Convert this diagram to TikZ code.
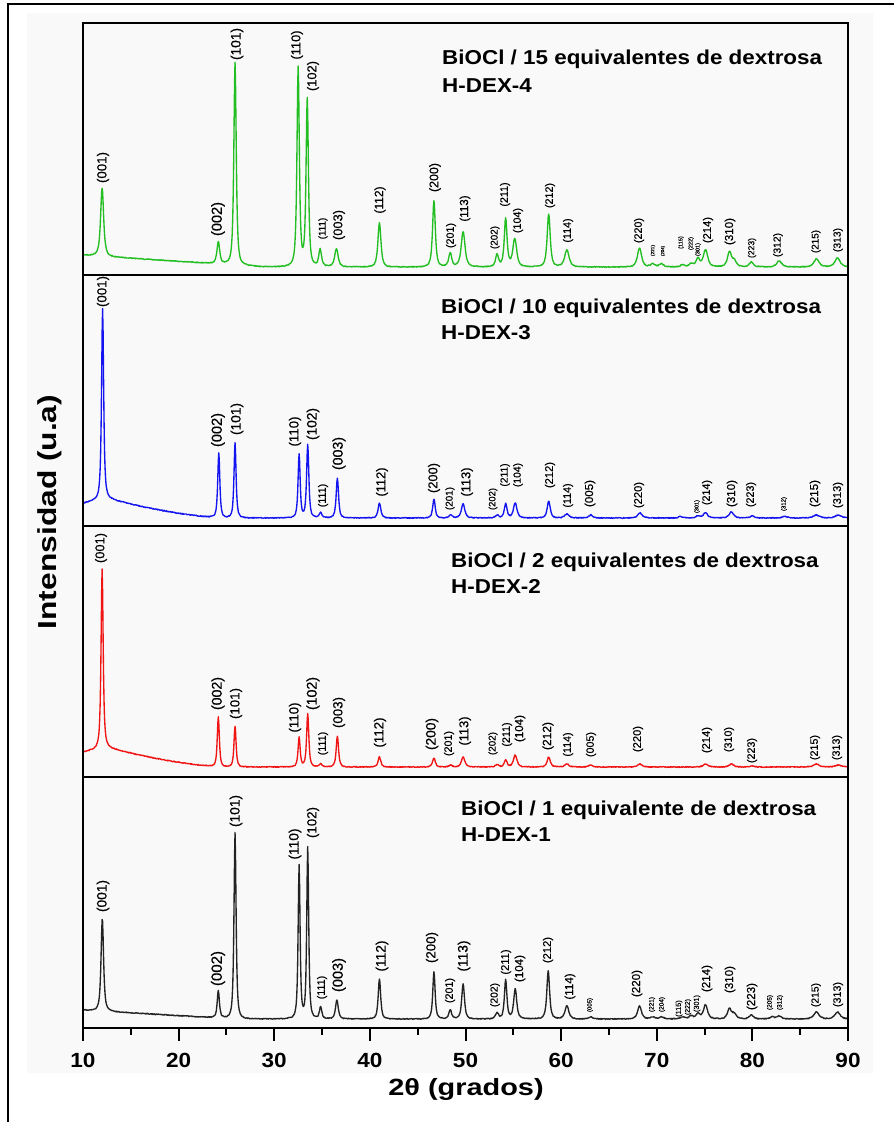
\documentclass[tikz,border=0pt]{standalone}
\usepackage{fontspec}
\setmainfont{Liberation Sans}
\newfontface\labfont[FakeBold=0.4]{Liberation Sans}
\usepackage{graphicx}
\definecolor{cgreen}{RGB}{34,190,34}
\definecolor{cblue}{RGB}{20,20,240}
\definecolor{cred}{RGB}{240,20,20}
\definecolor{cblack}{RGB}{35,35,35}
\definecolor{paper}{RGB}{249,249,249}
\newcommand\xrdcurve[3]{%
  \foreach \sa in {10,15,...,85}{%
    \pgfmathtruncatemacro\sb{\sa+5}%
    \gdef\xrdexpr{0}%
    \foreach \pc/\ph/\pw in {#1}{%
      \pgfmathtruncatemacro\inwin{abs(\pc-\sa-2.5)<5.5}%
      \ifnum\inwin=1
        \pgfmathsetmacro\xB{\pw*\pw*1.5}%
        \xdef\xrdexpr{\unexpanded\expandafter{\xrdexpr}+\ph*(\xB/((\noexpand\x-\pc)*(\noexpand\x-\pc)+\xB))*(0.2+0.8*\xB/((\noexpand\x-\pc)*(\noexpand\x-\pc)+\xB))}%
      \fi
    }%
    \draw[#3] plot[domain=\sa:\sb, samples=101] ({\x-10},{#2+\xrdexpr+0.45*rand});
  }%
}
\newcommand\lb[4]{%
  \pgfmathsetmacro\lbm{(#2+#3)/2}%
  \pgfmathsetmacro\lbs{(#3-#2)/2.33}%
  \node[rotate=90, inner sep=0pt, font=\labfont\fontsize{\lbs}{\lbs}\selectfont] at (#1,\lbm) {#4};%
}
\tikzset{
  frame/.style={line width=2pt, black},
  curve/.style={line width=1.35pt, line join=round, line cap=round},
  title/.style={anchor=base west, inner sep=0pt, xscale=1.115, font=\bfseries\fontsize{20.1}{20.1}\selectfont},
  ticklab/.style={anchor=base, inner sep=0pt, xscale=1.1, font=\bfseries\fontsize{20.5}{20.5}\selectfont},
}
\begin{document}
\begin{tikzpicture}[x=1pt,y=-1pt]
\useasboundingbox (0,0) rectangle (894,1122);
\fill[white] (0,0) rectangle (894,1122);
\fill[paper] (27,13) rectangle (873,1073);
% outer frame
\draw[frame] (894,4) -- (8,4) -- (8,1122);

% ---------- curves ----------
\begin{scope}[shift={(83,275)}, x=9.5625pt, y=1pt]
\xrdcurve{12.0/68/0.22, 24.15/22/0.2, 25.9/203/0.17, 32.5/199/0.17, 33.45/167/0.17, 34.8/17/0.2, 36.5/18/0.25, 41.0/44/0.22, 46.7/66/0.2, 48.4/14/0.22, 49.75/35/0.28, 53.3/12/0.22, 54.2/48/0.2, 55.15/28/0.28, 58.7/53/0.22, 60.6/17/0.32, 68.2/19/0.3, 69.6/3/0.3, 70.5/3/0.3, 72.7/2/0.3, 73.6/3/0.3, 74.3/8/0.28, 75.1/17/0.32, 77.6/15/0.28, 78.1/6/0.3, 79.9/5/0.3, 82.8/6/0.38, 86.7/8/0.38, 88.9/9/0.38}{8+12*max(0,1-(\x-10)/19)}{curve, cgreen}
\end{scope}
\begin{scope}[shift={(83,526)}, x=9.5625pt, y=1pt]
\xrdcurve{12.05/190/0.15, 24.2/65/0.15, 25.9/75/0.15, 32.6/64/0.15, 33.5/73/0.16, 34.85/5/0.2, 36.6/40/0.17, 41.0/15/0.2, 46.7/19/0.18, 48.45/3/0.22, 49.75/14/0.25, 53.3/3/0.22, 54.2/14/0.2, 55.2/15/0.25, 58.7/17/0.22, 60.6/4/0.32, 63.1/3/0.28, 68.25/5/0.32, 72.5/1.5/0.3, 74.3/2/0.3, 75.1/5/0.32, 77.8/6/0.32, 80.0/2/0.32, 83.4/1.5/0.38, 86.7/3/0.42, 89.0/3/0.42}{8+20*max(0,1-abs(\x-12.3)/12.5)*sqrt(max(0,1-abs(\x-12.3)/12.5))}{curve, cblue}
\end{scope}
\begin{scope}[shift={(83,777)}, x=9.5625pt, y=1pt]
\xrdcurve{12.0/179/0.15, 24.15/50/0.15, 25.9/41/0.15, 32.6/30/0.15, 33.5/53/0.16, 34.85/3/0.2, 36.6/31/0.17, 41.0/10/0.2, 46.7/9/0.2, 48.45/2/0.22, 49.75/10/0.25, 53.3/2.5/0.22, 54.2/7/0.2, 55.2/12/0.25, 58.7/10/0.22, 60.6/3/0.32, 63.1/2/0.28, 68.25/3/0.32, 75.1/3/0.32, 77.8/3/0.32, 80.0/1/0.32, 86.7/3/0.42, 89.0/2/0.42}{10+20*max(0,1-abs(\x-12.3)/12.5)*sqrt(max(0,1-abs(\x-12.3)/12.5))}{curve, cred}
\end{scope}
\begin{scope}[shift={(83,1028)}, x=9.5625pt, y=1pt]
\xrdcurve{12.02/93/0.18, 24.15/27/0.16, 25.9/186/0.15, 32.6/153/0.14, 33.5/171/0.14, 34.85/12/0.17, 36.55/19/0.2, 41.0/40/0.18, 46.7/47/0.17, 48.4/9/0.2, 49.75/35/0.2, 53.3/6/0.22, 54.2/39/0.18, 55.2/30/0.22, 58.65/48/0.2, 60.6/13/0.28, 63.1/2/0.28, 68.2/13/0.28, 69.6/2/0.3, 70.5/2/0.3, 72.7/2/0.3, 73.6/3/0.3, 74.3/5/0.28, 75.1/14/0.3, 77.6/10/0.28, 78.1/5/0.3, 79.9/4/0.3, 82.1/2/0.3, 82.8/3/0.3, 86.7/7/0.38, 88.9/7/0.38}{9+9*max(0,1-(\x-10)/16)}{curve, cblack}
\end{scope}

% ---------- frames ----------
\draw[frame] (83,23) rectangle (848,1028);
\draw[frame] (83,275) -- (848,275);
\draw[frame] (83,526) -- (848,526);
\draw[frame] (83,777) -- (848,777);
\foreach \v in {10,20,...,90}{
  \pgfmathsetmacro\tx{83+(\v-10)*9.5625}
  \draw[frame] (\tx,1028) -- (\tx,1041);
  \node[ticklab] (t\v) at (\tx,1067) {\v};
}
\foreach \v in {15,25,...,85}{
  \pgfmathsetmacro\tx{83+(\v-10)*9.5625}
  \draw[frame] (\tx,1028) -- (\tx,1035);
}
\node[anchor=base, inner sep=0pt, xscale=1.23, font=\bfseries\fontsize{23.5}{23.5}\selectfont] (xt) at (466,1095) {2θ (grados)};
\node[rotate=90, inner sep=0pt, font=\bfseries\fontsize{26}{26}\selectfont] (yt) at (50,512) {\scalebox{1.22}[1]{Intensidad (u.a)}};

% ---------- titles ----------
\node[title] (g1) at (442,64) {BiOCl / 15 equivalentes de dextrosa};
\node[title] (g2) at (442,92) {H-DEX-4};
\node[title] (b1) at (441,313) {BiOCl / 10 equivalentes de dextrosa};
\node[title] (b2) at (441,339) {H-DEX-3};
\node[title] (r1) at (451,567) {BiOCl / 2 equivalentes de dextrosa};
\node[title] (r2) at (451,593) {H-DEX-2};
\node[title] (k1) at (461,815) {BiOCl / 1 equivalente de dextrosa};
\node[title] (k2) at (461,841) {H-DEX-1};

% ---------- green labels ----------
\lb{103}{152}{183}{(001)}
\lb{218}{202}{236}{(002)}
\lb{237}{28}{60}{(101)}
\lb{297}{30}{60}{(110)}
\lb{313}{61}{91}{(102)}
\lb{323}{217}{240}{(111)}
\lb{339}{210}{240}{(003)}
\lb{380}{186}{214}{(112)}
\lb{435}{163}{192}{(200)}
\lb{451}{223}{248}{(201)}
\lb{465}{195}{222}{(113)}
\lb{495}{226}{249}{(202)}
\lb{505}{182}{207}{(211)}
\lb{518}{208}{233}{(104)}
\lb{550}{183}{208}{(212)}
\lb{568}{218}{243}{(114)}
\lb{639}{218}{243}{(220)}
\lb{653}{245}{256}{(221)}
\lb{663}{246}{256}{(204)}
\lb{681}{236}{249}{(115)}
\lb{691}{237}{250}{(222)}
\lb{698}{243}{256}{(301)}
\lb{708}{217}{243}{(214)}
\lb{730}{218}{245}{(310)}
\lb{752}{238}{258}{(223)}
\lb{778}{233}{257}{(312)}
\lb{816}{230}{253}{(215)}
\lb{838}{228}{252}{(313)}
% ---------- blue labels ----------
\lb{103}{276}{307}{(001)}
\lb{218}{413}{447}{(002)}
\lb{237}{403}{435}{(101)}
\lb{295}{416}{447}{(110)}
\lb{313}{408}{440}{(102)}
\lb{323}{483}{508}{(111)}
\lb{339}{437}{470}{(003)}
\lb{382}{467}{497}{(112)}
\lb{434}{463}{493}{(200)}
\lb{450}{487}{510}{(201)}
\lb{467}{467}{497}{(113)}
\lb{493}{488}{510}{(202)}
\lb{505}{463}{487}{(211)}
\lb{518}{463}{487}{(104)}
\lb{550}{462}{488}{(212)}
\lb{568}{483}{508}{(114)}
\lb{590}{480}{507}{(005)}
\lb{639}{482}{508}{(220)}
\lb{697}{500}{513}{(301)}
\lb{707}{480}{505}{(214)}
\lb{732}{480}{507}{(310)}
\lb{751}{482}{507}{(223)}
\lb{784}{497}{511}{(312)}
\lb{815}{480}{507}{(215)}
\lb{838}{482}{508}{(313)}
% ---------- red labels ----------
\lb{101}{533}{563}{(001)}
\lb{218}{677}{710}{(002)}
\lb{236}{688}{719}{(101)}
\lb{295}{702}{733}{(110)}
\lb{313}{677}{710}{(102)}
\lb{323}{731}{756}{(111)}
\lb{339}{697}{728}{(003)}
\lb{380}{717}{748}{(112)}
\lb{432}{718}{750}{(200)}
\lb{449}{731}{756}{(201)}
\lb{465}{716}{746}{(113)}
\lb{493}{732}{755}{(202)}
\lb{507}{722}{747}{(211)}
\lb{520}{715}{742}{(104)}
\lb{548}{722}{750}{(212)}
\lb{568}{732}{757}{(114)}
\lb{591}{732}{757}{(005)}
\lb{638}{726}{752}{(220)}
\lb{707}{727}{753}{(214)}
\lb{729}{727}{752}{(310)}
\lb{752}{738}{763}{(223)}
\lb{815}{735}{760}{(215)}
\lb{837}{735}{760}{(313)}
% ---------- black labels ----------
\lb{103}{880}{912}{(001)}
\lb{218}{951}{986}{(002)}
\lb{236}{795}{827}{(101)}
\lb{295}{828}{860}{(110)}
\lb{313}{807}{838}{(102)}
\lb{322}{975}{1000}{(111)}
\lb{339}{958}{992}{(003)}
\lb{382}{940}{972}{(112)}
\lb{432}{932}{963}{(200)}
\lb{450}{978}{1003}{(201)}
\lb{464}{940}{972}{(113)}
\lb{495}{983}{1007}{(202)}
\lb{506}{949}{975}{(211)}
\lb{520}{955}{982}{(104)}
\lb{548}{937}{963}{(212)}
\lb{570}{973}{1000}{(114)}
\lb{590}{998}{1012}{(005)}
\lb{637}{970}{997}{(220)}
\lb{652}{997}{1012}{(221)}
\lb{662}{997}{1012}{(204)}
\lb{679}{1000}{1017}{(115)}
\lb{688}{999}{1015}{(222)}
\lb{697}{995}{1012}{(301)}
\lb{707}{965}{992}{(214)}
\lb{730}{966}{993}{(310)}
\lb{752}{983}{1010}{(223)}
\lb{770}{995}{1010}{(205)}
\lb{780}{995}{1010}{(312)}
\lb{816}{983}{1007}{(215)}
\lb{838}{982}{1007}{(313)}
\end{tikzpicture}
\end{document}
